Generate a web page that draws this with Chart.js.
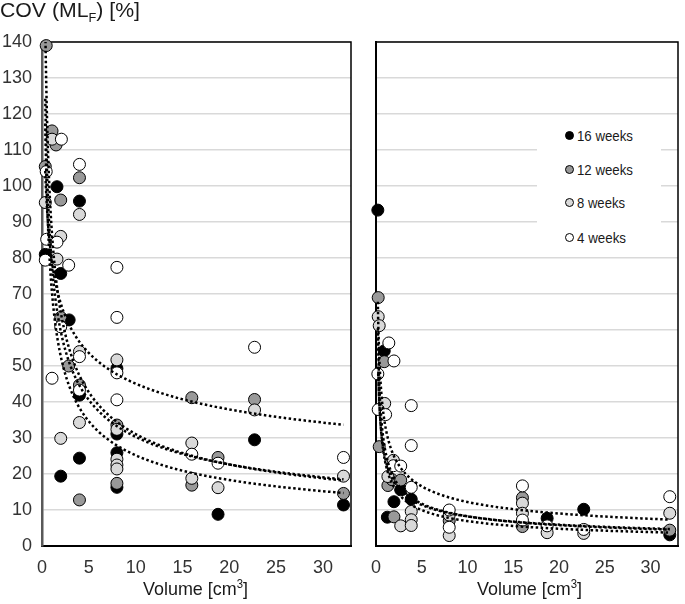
<!DOCTYPE html>
<html><head><meta charset="utf-8">
<script src="https://cdn.jsdelivr.net/npm/chart.js@4.4.0/dist/chart.umd.min.js"></script>
<style>
html,body{margin:0;padding:0;background:#fff;}
body{width:685px;height:604px;position:relative;overflow:hidden;font-family:"Liberation Sans",Arial,sans-serif;color:#1a1a1a;}
canvas{position:absolute;top:0;}
#c1{left:0}
#c2{left:360px}
.t{position:absolute;white-space:nowrap;transform-origin:0 50%;line-height:1;}
#legend{position:absolute;left:537px;top:118px;width:124px;height:136px;background:#fff;}
.mk{position:absolute;width:9px;height:9px;border-radius:50%;border:1px solid #000;box-sizing:border-box;}
</style></head>
<body>
<canvas id="c1" width="360" height="604"></canvas>
<canvas id="c2" width="325" height="604"></canvas>
<div class="t" id="ytitle" data-w="140" style="left:0;top:0px;font-size:20px;">COV (ML<span style="font-size:12px;position:relative;top:5px;">F</span>) [%]</div>
<div class="t" id="xt1" data-w="105" style="left:143px;top:579px;font-size:19px;">Volume [cm<span style="font-size:12px;position:relative;top:-7px;">3</span>]</div>
<div class="t" id="xt2" data-w="105" style="left:477px;top:579px;font-size:19px;">Volume [cm<span style="font-size:12px;position:relative;top:-7px;">3</span>]</div>
<div id="legend"></div>
<script>
// ---- data (x = volume [cm3], y = COV [%]) ----
const seriesNames = ['16 weeks', '12 weeks', '8 weeks', '4 weeks'];
const seriesFills = ['#000000', '#999999', '#d9d9d9', '#ffffff'];

const left16 = [[0.35,81.0],[1.6,99.8],[2.0,75.7],[2.9,62.8],[4.0,95.8],[4.0,41.9],[2.0,19.4],[4.0,24.4],[8.0,49.3],[8.0,31.1],[8.0,25.9],[8.0,16.3],[18.8,8.8],[22.7,29.5],[32.2,11.4]];
const left12 = [[0.45,139],[0.35,105.4],[1.07,115.3],[1.5,111.4],[2.0,96.1],[4.0,102.3],[2.0,63.5],[2.85,50.0],[4.0,44.7],[4.0,12.8],[8.0,33.6],[8.0,17.4],[16.0,41.2],[16.0,16.9],[18.8,24.6],[22.7,40.7],[32.2,14.6]];
const left8  = [[0.35,95.4],[1.07,113],[2.0,86.0],[1.6,79.7],[4.0,92.1],[4.0,54.0],[4.0,34.3],[2.0,29.9],[8.0,51.7],[8.0,32.4],[8.0,24.1],[8.0,22.5],[8.0,21.4],[16.0,28.6],[16.0,18.8],[18.8,16.2],[22.7,37.8],[32.2,19.4]];
const left4  = [[0.45,104],[2.07,113],[4.0,106],[0.5,85.2],[1.6,84.4],[0.35,79.4],[2.85,78.0],[8.0,77.4],[8.0,63.5],[2.0,60.9],[4.0,52.6],[1.07,46.6],[4.0,43.3],[8.0,48.1],[8.0,40.6],[16.0,25.5],[18.8,23.0],[22.7,55.2],[32.2,24.6]];

const right16 = [[0.2,93.3],[0.9,54.2],[2.7,15.6],[3.85,13.0],[1.96,12.3],[1.24,8.0],[18.7,7.7],[22.7,10.2],[32.1,3.1]];
const right12 = [[0.24,69.0],[0.9,51.2],[0.35,27.6],[1.3,16.8],[1.77,18.4],[2.7,18.3],[1.96,8.1],[8.0,7.0],[16.0,13.4],[16.0,5.4],[32.1,4.4]];
const right8  = [[0.24,63.7],[0.35,61.2],[0.95,39.6],[1.9,23.8],[1.3,19.3],[2.7,5.6],[3.85,9.6],[3.85,7.3],[3.85,5.7],[8.0,8.6],[8.0,2.9],[16.0,11.9],[16.0,9.1],[18.7,3.7],[22.7,3.5],[32.1,9.1]];
const right4  = [[1.4,56.4],[1.96,51.4],[0.2,47.8],[3.85,39.0],[0.24,37.9],[1.05,36.5],[3.85,27.9],[1.9,22.3],[2.7,22.2],[3.85,16.3],[8.0,10.0],[8.0,5.2],[16.0,16.7],[16.0,7.2],[18.7,5.6],[22.7,4.6],[32.1,13.7]];

const xMin = 0, xMax = 33, xStep = 5;
const yMin = 0, yMax = 140, yStep = 10;

// ---- power trendline (least squares on ln x, ln y), like a spreadsheet power trendline ----
function powerFit(pts){
  const n = pts.length; let sx=0, sy=0, sxx=0, sxy=0;
  pts.forEach(([x,y])=>{const lx=Math.log(x), ly=Math.log(y); sx+=lx; sy+=ly; sxx+=lx*lx; sxy+=lx*ly;});
  const b = (n*sxy - sx*sy)/(n*sxx - sx*sx);
  const a = Math.exp((sy - b*sx)/n);
  return {a, b};
}
function trend(pts){
  const {a, b} = powerFit(pts);
  const xs = pts.map(p=>p[0]);
  const x0 = Math.min(...xs), x1 = Math.max(...xs);
  const out = []; const N = 150;
  for (let i=0;i<=N;i++){ const x = x0*Math.pow(x1/x0, i/N); out.push({x, y:a*Math.pow(x,b)}); }
  return out;
}

function makeDatasets(groups){
  const ds = [];
  groups.forEach((pts,i)=>{
    ds.push({type:'scatter', label:seriesNames[i], data:pts.map(([x,y])=>({x,y})),
      backgroundColor:seriesFills[i], borderColor:'#000', borderWidth:1,
      pointRadius:6, pointHoverRadius:6, order:4-i, clip:false});
  });
  groups.forEach((pts)=>{
    ds.push({type:'scatter', label:'trend', data:trend(pts), showLine:true,
      borderColor:'#000', backgroundColor:'#000', borderWidth:2.5, borderDash:[2.5,2.5], borderCapStyle:'butt',
      pointRadius:0, pointHoverRadius:0, fill:false, order:0, clip:0});
  });
  return ds;
}

const tickFont = {family:'"Liberation Sans", Arial, sans-serif', size:18};

function scales(isLeft){
  return {
    x:{type:'linear', min:xMin, max:xMax, bounds:'data',
      ticks:{stepSize:xStep, includeBounds:false, font:tickFont, color:'#333', padding:11, maxRotation:0},
      afterBuildTicks(s){ s.ticks = s.ticks.filter(t => Math.abs(t.value % xStep) < 1e-9); },
      grid:{display:false, drawTicks:false},
      border:{display:true, color:'#000', width:2},
      afterFit(s){ s.height = 58; }},
    y:{type:'linear', min:yMin, max:yMax,
      ticks:{display:isLeft, stepSize:yStep, font:tickFont, color:'#333', padding:10},
      grid:{color:'#d9d9d9', lineWidth:1.6, drawTicks:false},
      border:{display:true, color:isLeft?'#595959':'#000', width:isLeft?2.5:2},
      afterFit(s){ s.width = isLeft ? 42 : 16; }}
  };
}

const boxPlugin = {
  id:'box',
  beforeDatasetsDraw(chart){
    const {ctx, chartArea:{left,right,top,bottom}} = chart;
    ctx.save(); ctx.strokeStyle='#000'; ctx.lineWidth=1.5;
    ctx.beginPath(); ctx.moveTo(left, top); ctx.lineTo(right, top); ctx.lineTo(right, bottom); ctx.stroke();
    ctx.restore();
  }
};

function makeChart(id, groups, isLeft, padRight){
  return new Chart(document.getElementById(id), {
    data:{datasets:makeDatasets(groups)},
    options:{
      responsive:false, animation:false, devicePixelRatio:1, events:[],
      layout:{padding:{left:0, right:padRight, top:42, bottom:0}},
      plugins:{legend:{display:false}, tooltip:{enabled:false}},
      scales:scales(isLeft)
    },
    plugins:[boxPlugin]
  });
}

makeChart('c1', [left16, left12, left8, left4], true, 9);
makeChart('c2', [right16, right12, right8, right4], false, 2);

// ---- legend ----
const legend = document.getElementById('legend');
const legY = [17, 51, 84, 119];
const legW = [56, 56, 48, 49];
seriesNames.forEach((name,i)=>{
  const m = document.createElement('div'); m.className='mk';
  m.style.left = (569-537-4.5)+'px'; m.style.top = (legY[i]-4.5)+'px'; m.style.background = seriesFills[i];
  legend.appendChild(m);
  const t = document.createElement('div'); t.className='t'; t.textContent = name;
  t.style.fontSize='15px'; t.style.left=(577-537)+'px'; t.style.top=(legY[i]-7.5)+'px'; t.dataset.w = legW[i];
  legend.appendChild(t);
});

// fit text widths to the reference
document.querySelectorAll('.t').forEach(el=>{
  const w = el.getBoundingClientRect().width; const target = +el.dataset.w;
  if (w>0 && target) el.style.transform = 'scaleX('+(target/w)+')';
});
</script>
</body></html>
